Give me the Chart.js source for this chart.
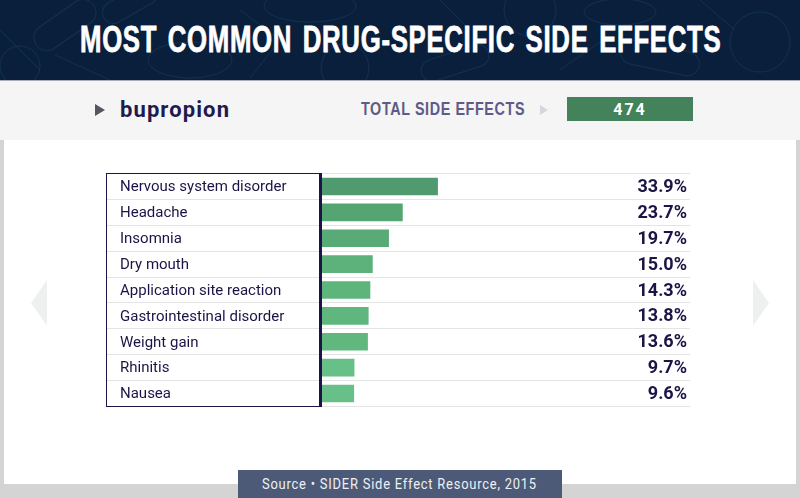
<!DOCTYPE html>
<html>
<head>
<meta charset="utf-8">
<script src="https://cdn.jsdelivr.net/npm/chart.js@4"></script>
<style>
  html, body { margin: 0; padding: 0; }
  body { width: 800px; height: 498px; position: relative; overflow: hidden; background: #d4d4d4; font-family: Roboto, sans-serif; }
  .abs { position: absolute; white-space: nowrap; }
  .fit { transform-origin: 0 50%; }
  #header { left: 0; top: 0; width: 800px; height: 80px; background: #0a1f3c; border-bottom: 1px solid #a9adb5; }
  #title { left: 80px; top: 18px; color: #fff; font: bold 37px/44px "Liberation Sans", sans-serif; letter-spacing: 1px; word-spacing: 4px; -webkit-text-stroke: 0.8px #fff; }
  #band { left: 0; top: 81px; width: 800px; height: 59px; background: #f5f5f5; }
  #panel { left: 4px; top: 140px; width: 792px; height: 344px; background: #fff; }
  #drug { left: 120px; top: 95px; color: #211a4e; font: bold 22px/30px Roboto, sans-serif; letter-spacing: 1.1px; }
  #total { left: 361px; top: 98px; color: #5f5b85; font: bold 19px/22px "Liberation Sans", sans-serif; letter-spacing: 0.8px; }
  #count { left: 567px; top: 97px; width: 126px; height: 24px; background: #43825a; color: #fff; text-align: center; font: bold 16px/25px Roboto, sans-serif; letter-spacing: 2px; }
  #sourcebar { left: 238px; top: 470px; width: 324px; height: 28px; background: #4c5a78; }
  #source { left: 262px; top: 470px; color: #eef0f4; font: 15px/28px Roboto, sans-serif; letter-spacing: 0.9px; }
  #box { left: 106px; top: 173px; width: 212px; height: 232px; border: 1px solid #1a1546; border-right: 3px solid #1a1546; }
  .tri { position: absolute; }
  #chart { position: absolute; left: 0; top: 0; }
</style>
</head>
<body>
<div class="abs" id="header">
  <svg width="800" height="80" fill="none" stroke="#123250" stroke-width="1">
    <rect x="30" y="12" width="70" height="26" rx="13" transform="rotate(-35 65 25)"/>
    <rect x="100" y="-8" width="60" height="22" rx="11" transform="rotate(-30 130 3)"/>
    <ellipse cx="190" cy="60" rx="42" ry="18"/>
    <path d="M0 30 L40 70 M55 55 L110 80 M240 10 L280 40 L250 78"/>
    <circle cx="530" cy="10" r="26"/>
    <rect x="620" y="46" width="80" height="24" rx="12" transform="rotate(12 660 58)"/>
    <circle cx="760" cy="42" r="30"/>
    <ellipse cx="310" cy="6" rx="46" ry="16"/>
    <rect x="420" y="52" width="70" height="22" rx="11" transform="rotate(-18 455 63)"/>
    <circle cx="20" cy="66" r="20"/>
    <ellipse cx="620" cy="12" rx="36" ry="13"/>
    <circle cx="345" cy="68" r="24"/>
    <path d="M700 0 L735 30 M560 70 L600 42 M440 0 L470 30"/>
  </svg>
</div>
<div class="abs fit" id="title">MOST COMMON DRUG-SPECIFIC SIDE EFFECTS</div>
<div class="abs" id="band"></div>
<div class="abs" id="panel"></div>
<svg class="tri" style="left:94px;top:103px" width="12" height="14"><polygon points="1,1 11,7 1,13" fill="#555560"/></svg>
<svg class="tri" style="left:540px;top:103px" width="9" height="14"><polygon points="0,2 8,7 0,12" fill="#d6d6e0"/></svg>
<svg class="tri" style="left:31px;top:280px" width="17" height="46"><polygon points="16,0 0,23 16,46" fill="#eef0f0"/></svg>
<svg class="tri" style="left:752px;top:280px" width="17" height="46"><polygon points="1,0 17,23 1,46" fill="#eef0f0"/></svg>
<div class="abs" id="drug">bupropion</div>
<div class="abs fit" id="total">TOTAL SIDE EFFECTS</div>
<div class="abs" id="count">474</div>
<div class="abs" id="sourcebar"></div>
<div class="abs fit" id="source">Source • SIDER Side Effect Resource, 2015</div>
<canvas id="chart" width="800" height="498"></canvas>
<div class="abs" id="box"></div>
<script>
const effects = ["Nervous system disorder", "Headache", "Insomnia", "Dry mouth", "Application site reaction", "Gastrointestinal disorder", "Weight gain", "Rhinitis", "Nausea"];
const shares = [33.9, 23.7, 19.7, 15.0, 14.3, 13.8, 13.6, 9.7, 9.6];
const barColors = ["#4f9a6e", "#55a573", "#58aa76", "#5cb27a", "#5eb57c", "#5fb77e", "#60b87f", "#66c088", "#66c088"];

const ink = "#1a1546";

// no narrow fonts installed, so squeeze these headings to the reference width
function fitWidth(id, px) {
  const el = document.getElementById(id);
  el.style.transform = "scaleX(" + px / el.offsetWidth + ")";
}
fitWidth("title", 641);
fitWidth("total", 164);
fitWidth("source", 275);

// draws the percent column at the right edge of each row
const shareLabels = {
  id: "shareLabels",
  afterDatasetsDraw(chart) {
    const { ctx, chartArea, scales } = chart;
    ctx.save();
    ctx.font = 'bold 18px Roboto, sans-serif';
    ctx.fillStyle = ink;
    ctx.textAlign = "right";
    ctx.textBaseline = "middle";
    shares.forEach((v, i) => {
      ctx.fillText(v.toFixed(1) + "%", chartArea.right - 3, scales.y.getPixelForValue(i) + 1);
    });
    ctx.restore();
  }
};

new Chart(document.getElementById("chart"), {
  type: "bar",
  data: {
    labels: effects,
    datasets: [{ data: shares, backgroundColor: barColors, barPercentage: 0.68, categoryPercentage: 1 }]
  },
  plugins: [shareLabels],
  options: {
    indexAxis: "y",
    responsive: false,
    animation: false,
    layout: { padding: { left: 120, right: 110, top: 173.5, bottom: 91.5 } },
    plugins: { legend: { display: false }, tooltip: { enabled: false } },
    scales: {
      x: { min: 0, max: 107, display: false },
      y: {
        afterFit(scale) { scale.width = 201; },
        grid: { offset: true, color: "#e4e4e4", tickLength: 214, tickColor: "#e4e4e4" },
        border: { display: false },
        ticks: { crossAlign: "far", labelOffset: 1, color: ink, font: { family: "Roboto, sans-serif", size: 15 } }
      }
    }
  }
});
</script>
</body>
</html>
